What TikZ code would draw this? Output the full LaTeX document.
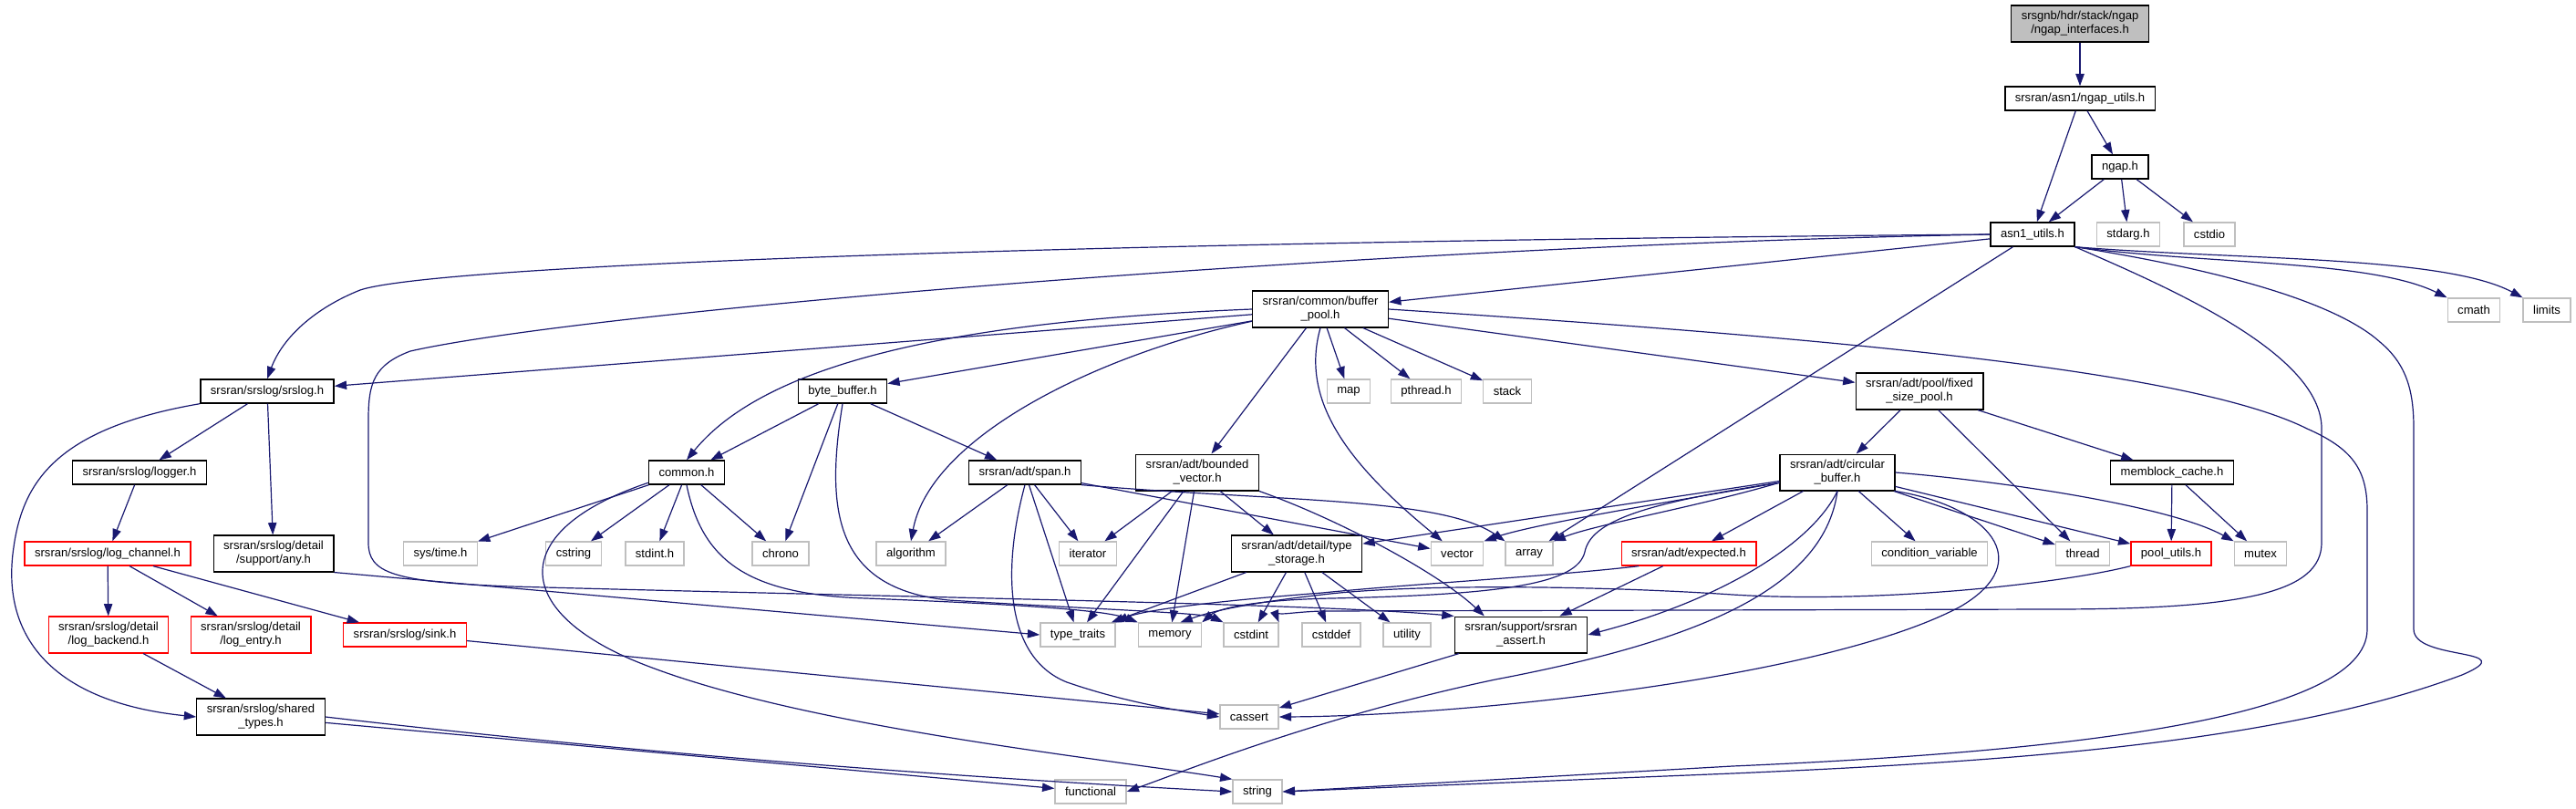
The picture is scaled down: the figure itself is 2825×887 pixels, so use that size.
\documentclass[tikz,border=0pt]{standalone}
\usepackage{fontspec}
\setmainfont{Liberation Sans}
\usetikzlibrary{arrows.meta}
\definecolor{midnight}{HTML}{191970}
\definecolor{sysgray}{HTML}{BFBFBF}

\begin{document}
\begin{tikzpicture}[x=0.75pt, y=-0.75pt,
    every node/.style={font=\fontsize{9.8}{11.3}\selectfont, align=center, fill=white,
      inner xsep=8.25pt, inner ysep=4.7pt, minimum height=19.5pt, line width=1pt},
    hdr/.style={draw=black},
    sys/.style={draw=sysgray},
    trunc/.style={draw=red},
    dep/.style={draw=midnight, line width=0.9pt, -{Triangle[length=10pt,width=7pt]}}]
    \useasboundingbox (0,0) rectangle (2825,887);

    % headers of the project
    \node[hdr, fill=sysgray] (root) at (2281,26) {srsgnb/hdr/stack/ngap\\/ngap\_interfaces.h};
    \node[hdr] (ngaputils) at (2281,108) {srsran/asn1/ngap\_utils.h};
    \node[hdr] (ngaph) at (2325,183) {ngap.h};
    \node[hdr] (asnutils) at (2229,257) {asn1\_utils.h};
    \node[hdr] (bufpool) at (1448,339) {srsran/common/buffer\\\_pool.h};
    \node[hdr] (srslog) at (293,429) {srsran/srslog/srslog.h};
    \node[hdr] (bytebuf) at (924,429) {byte\_buffer.h};
    \node[hdr] (fixedpool) at (2105,429) {srsran/adt/pool/fixed\\\_size\_pool.h};
    \node[hdr] (logger) at (153,518) {srsran/srslog/logger.h};
    \node[hdr] (commonh) at (753,518) {common.h};
    \node[hdr] (spanh) at (1124,518) {srsran/adt/span.h};
    \node[hdr] (boundedvec) at (1313,518) {srsran/adt/bounded\\\_vector.h};
    \node[hdr] (circbuf) at (2015,518) {srsran/adt/circular\\\_buffer.h};
    \node[hdr] (memblock) at (2382,518) {memblock\_cache.h};
    \node[hdr] (anyh) at (300,607) {srsran/srslog/detail\\/support/any.h};
    \node[hdr] (typestorage) at (1422,607) {srsran/adt/detail/type\\\_storage.h};
    \node[hdr] (srsassert) at (1668,696) {srsran/support/srsran\\\_assert.h};
    \node[hdr] (sharedtypes) at (286,786) {srsran/srslog/shared\\\_types.h};

    % not expanded
    \node[trunc] (logchannel) at (118,607) {srsran/srslog/log\_channel.h};
    \node[trunc] (expected) at (1852,607) {srsran/adt/expected.h};
    \node[trunc] (poolutils) at (2381,607) {pool\_utils.h};
    \node[trunc] (logbackend) at (119,696) {srsran/srslog/detail\\/log\_backend.h};
    \node[trunc] (logentry) at (275,696) {srsran/srslog/detail\\/log\_entry.h};
    \node[trunc] (sinkh) at (444,696) {srsran/srslog/sink.h};

    % system headers
    \node[sys] (stdargh) at (2334,257) {stdarg.h};
    \node[sys] (cstdio) at (2423,257) {cstdio};
    \node[sys] (cmath) at (2713,340) {cmath};
    \node[sys] (limits) at (2793,340) {limits};
    \node[sys] (mapn) at (1479,429) {map};
    \node[sys] (pthreadh) at (1564,429) {pthread.h};
    \node[sys] (stackn) at (1653,429) {stack};
    \node[sys] (systime) at (483,607) {sys/time.h};
    \node[sys] (cstring) at (629,607) {cstring};
    \node[sys] (stdinth) at (718,607) {stdint.h};
    \node[sys] (chrono) at (856,607) {chrono};
    \node[sys] (algorithm) at (999,607) {algorithm};
    \node[sys] (iterator) at (1193,607) {iterator};
    \node[sys] (vectorn) at (1598,607) {vector};
    \node[sys] (arrayn) at (1677,607) {array};
    \node[sys] (condvar) at (2116,607) {condition\_variable};
    \node[sys] (thread) at (2284,607) {thread};
    \node[sys] (mutex) at (2479,607) {mutex};
    \node[sys] (typetraits) at (1182,696) {type\_traits};
    \node[sys] (memory) at (1283,696) {memory};
    \node[sys] (cstdint) at (1372,696) {cstdint};
    \node[sys] (cstddef) at (1460,696) {cstddef};
    \node[sys] (utility) at (1543,696) {utility};
    \node[sys] (cassert) at (1370,786) {cassert};
    \node[sys] (functional) at (1196,868) {functional};
    \node[sys] (stringn) at (1379,868) {string};

    \draw[dep] (root) -- (ngaputils);
    \draw[dep] (ngaputils) -- (asnutils);
    \draw[dep] (ngaputils) -- (ngaph);
    \draw[dep] (ngaph) -- (asnutils);
    \draw[dep] (ngaph) -- (stdargh);
    \draw[dep] (ngaph) -- (cstdio);

    % asn1_utils.h
    \draw[dep] (asnutils) -- (bufpool);
    \draw[dep] (asnutils) -- (arrayn);
    \draw[dep] (asnutils.west) .. controls (1200,265) and (480,290) .. (395,318)
        .. controls (345,338) and (310,370) .. (srslog.north);
    \draw[dep] (asnutils.west) .. controls (1500,270) and (650,340) .. (450,385)
        .. controls (410,400) and (404,420) .. (404,460) -- (404,595)
        .. controls (404,628) and (430,638) .. (560,643)
        .. controls (1000,655) and (1450,662) .. (srsassert.north west);
    \draw[dep] (asnutils.south east) .. controls (2390,320) and (2546,390) .. (2546,470) -- (2546,595)
        .. controls (2546,650) and (2460,668) .. (2250,668) -- (1450,670)
        .. controls (1415,671) and (1400,676) .. (cstdint.north east);
    \draw[dep] (asnutils.south east) .. controls (2420,290) and (2600,285) .. (cmath.north west);
    \draw[dep] (asnutils.south east) .. controls (2450,285) and (2680,280) .. (limits.north west);
    \draw[dep] (asnutils.south east) .. controls (2430,295) and (2560,330) .. (2610,375)
        .. controls (2640,400) and (2647,430) .. (2647,470) -- (2647,690)
        .. controls (2647,725) and (2770,710) .. (2700,740)
        .. controls (2500,815) and (2200,835) .. (1900,848) -- (stringn.east);

    % buffer_pool.h
    \draw[dep] (bufpool) -- (srslog);
    \draw[dep] (bufpool.west) .. controls (1100,350) and (850,385) .. (commonh.north);
    \draw[dep] (bufpool) -- (bytebuf);
    \draw[dep] (bufpool.190) .. controls (1200,390) and (1020,480) .. (algorithm.north);
    \draw[dep] (bufpool) -- (boundedvec);
    \draw[dep] (bufpool.south) .. controls (1425,440) and (1480,510) .. (vectorn.140);
    \draw[dep] (bufpool) -- (mapn);
    \draw[dep] (bufpool) -- (pthreadh);
    \draw[dep] (bufpool) -- (stackn);
    \draw[dep] (bufpool) -- (fixedpool);
    \draw[dep] (bufpool.east) .. controls (2000,370) and (2400,405) .. (2530,470)
        .. controls (2580,492) and (2596,515) .. (2596,560) -- (2596,690)
        .. controls (2596,790) and (2250,825) .. (1900,840) -- (stringn.east);

    % byte_buffer.h
    \draw[dep] (bytebuf) -- (commonh);
    \draw[dep] (bytebuf) -- (chrono);
    \draw[dep] (bytebuf) -- (spanh);
    \draw[dep] (bytebuf.south) .. controls (905,560) and (915,645) .. (1040,658)
        .. controls (1200,668) and (1320,672) .. (cstdint.north west);

    % srslog
    \draw[dep] (srslog) -- (logger);
    \draw[dep] (srslog) -- (anyh);
    \draw[dep] (srslog.south west) .. controls (60,470) and (25,530) .. (15,600)
        .. controls (0,700) and (60,770) .. (sharedtypes.west);
    \draw[dep] (logger) -- (logchannel);
    \draw[dep] (logchannel) -- (logbackend);
    \draw[dep] (logchannel) -- (logentry);
    \draw[dep] (logchannel) -- (sinkh);
    \draw[dep] (logbackend) -- (sharedtypes);
    \draw[dep] (sinkh) -- (cassert);
    \draw[dep] (sharedtypes) -- (functional);
    \draw[dep] (sharedtypes.east) .. controls (800,838) and (1200,860) .. (stringn.west);
    \draw[dep] (anyh.south east) -- (typetraits.west);

    % common.h
    \draw[dep] (commonh) -- (systime);
    \draw[dep] (commonh) -- (cstring);
    \draw[dep] (commonh) -- (stdinth);
    \draw[dep] (commonh) -- (chrono);
    \draw[dep] (commonh.195) .. controls (560,580) and (560,665) .. (690,722)
        .. controls (860,795) and (1200,830) .. (stringn.north west);
    \draw[dep] (commonh.south) .. controls (770,615) and (820,652) .. (950,656)
        .. controls (1100,662) and (1210,668) .. (memory.north west);

    % span.h, bounded_vector.h, type_storage.h
    \draw[dep] (spanh) -- (algorithm);
    \draw[dep] (spanh) -- (iterator);
    \draw[dep] (spanh) -- (typetraits);
    \draw[dep] (spanh.south) .. controls (1100,620) and (1100,720) .. (1170,748)
        .. controls (1240,772) and (1300,780) .. (cassert.west);
    \draw[dep] (spanh) -- (vectorn);
    \draw[dep] (spanh.south east) .. controls (1400,550) and (1580,545) .. (arrayn.north west);
    \draw[dep] (boundedvec) -- (iterator);
    \draw[dep] (boundedvec) -- (typetraits);
    \draw[dep] (boundedvec) -- (memory);
    \draw[dep] (boundedvec) -- (typestorage);
    \draw[dep] (boundedvec.south east) .. controls (1470,570) and (1580,630) .. (srsassert.153);
    \draw[dep] (typestorage) -- (typetraits);
    \draw[dep] (typestorage) -- (cstdint);
    \draw[dep] (typestorage) -- (cstddef);
    \draw[dep] (typestorage) -- (utility);

    % circular_buffer.h
    \draw[dep] (circbuf) -- (typestorage);
    \draw[dep] (circbuf.190) .. controls (1820,552) and (1680,575) .. (vectorn.north east);
    \draw[dep] (circbuf.190) .. controls (1860,556) and (1750,575) .. (arrayn.north east);
    \draw[dep] (circbuf.190) .. controls (1800,552) and (1745,572) .. (1738,605)
        .. controls (1730,640) and (1650,652) .. (1460,656)
        .. controls (1370,658) and (1335,668) .. (memory.north east);
    \draw[dep] (circbuf) -- (expected);
    \draw[dep] (circbuf.south) .. controls (1985,600) and (1880,660) .. (srsassert.east);
    \draw[dep] (circbuf.south) .. controls (2000,650) and (1850,705) .. (1640,745)
        .. controls (1450,785) and (1300,845) .. (functional.east);
    \draw[dep] (circbuf) -- (condvar);
    \draw[dep] (circbuf) -- (thread);
    \draw[dep] (circbuf) -- (poolutils);
    \draw[dep] (circbuf.east) .. controls (2200,528) and (2380,555) .. (mutex.north west);
    \draw[dep] (circbuf.south east) .. controls (2180,555) and (2235,615) .. (2150,665)
        .. controls (2000,745) and (1600,785) .. (cassert.east);

    \draw[dep] (fixedpool) -- (circbuf);
    \draw[dep] (fixedpool) -- (thread);
    \draw[dep] (fixedpool) -- (memblock);
    \draw[dep] (memblock) -- (poolutils);
    \draw[dep] (memblock) -- (mutex);

    \draw[dep] (expected) -- (srsassert);
    \draw[dep] (expected.194) .. controls (1700,632) and (1550,640) .. (1450,650)
        .. controls (1320,660) and (1250,670) .. (typetraits.north east);
    \draw[dep] (poolutils.south west) .. controls (2260,640) and (2060,662) .. (1900,652)
        .. controls (1750,642) and (1550,640) .. (1450,652)
        .. controls (1380,660) and (1335,668) .. (memory.50);
    \draw[dep] (srsassert) -- (cassert);
\end{tikzpicture}
\end{document}
